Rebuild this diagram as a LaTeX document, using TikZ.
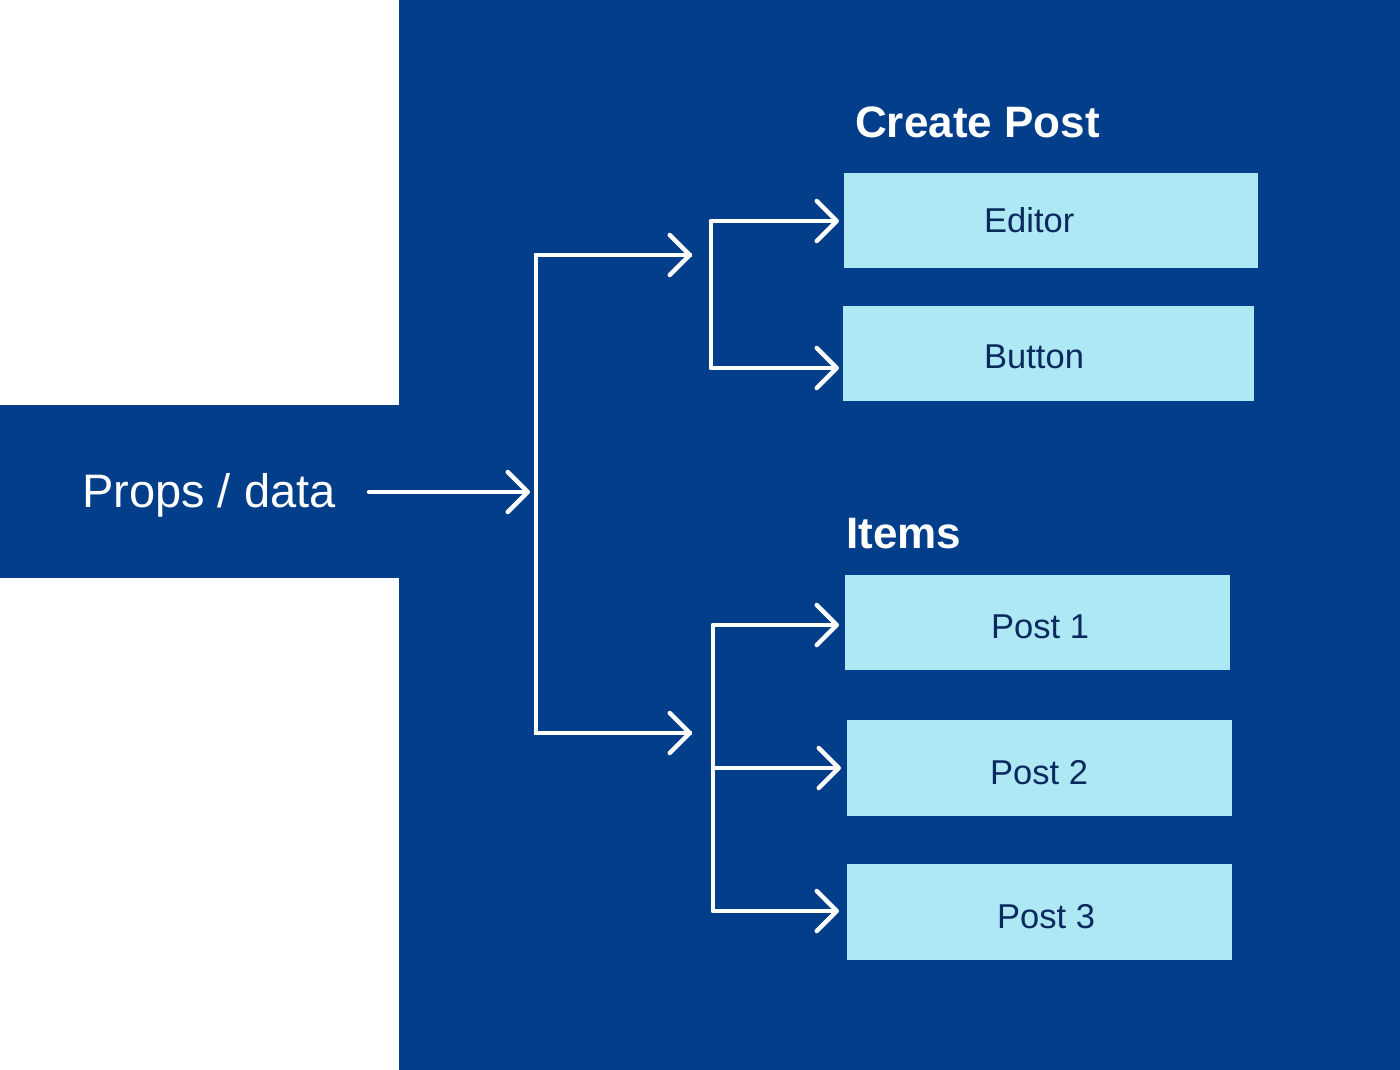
\documentclass[tikz,border=0pt]{standalone}
\usepackage{fontspec}
\setmainfont{Liberation Sans}
\usetikzlibrary{arrows.meta}
\definecolor{bgblue}{HTML}{023E8A}
\definecolor{boxcyan}{HTML}{ADE8F4}
\definecolor{boxtext}{HTML}{0A2A5E}
\begin{document}
\begin{tikzpicture}[x=1pt,y=-1pt,
  compbox/.style={fill=boxcyan,draw=none,inner sep=0pt,anchor=north west},
  boxlabel/.style={text=boxtext,font=\fontsize{34.5}{38}\selectfont,anchor=base west,inner sep=0pt},
  title/.style={text=white,font=\bfseries\fontsize{44}{50}\selectfont,anchor=base west,inner sep=0pt},
  flow/.style={draw=white,line width=4.5pt,line cap=round,line join=miter},
  tip/.style={-{Straight Barb[length=20pt,width=40pt,line cap=round,line join=round]}}
]
\useasboundingbox (0,0) rectangle (1400,1070);
\fill[white] (0,0) rectangle (1400,1070);
\fill[bgblue] (399,0) rectangle (1400,1070);
\fill[bgblue] (0,405) rectangle (400,578);

\node[text=white,font=\fontsize{47}{52}\selectfont,anchor=base west,inner sep=0pt] (props) at (82,507) {Props / data};
\node[title] (ctitle) at (855,138) {Create Post};
\node[title] (ititle) at (846,548) {Items};

\node[compbox,minimum width=414pt,minimum height=95pt] (editor) at (844,173) {};
\node[compbox,minimum width=411pt,minimum height=95pt] (button) at (843,306) {};
\node[compbox,minimum width=385pt,minimum height=95pt] (post1) at (845,575) {};
\node[compbox,minimum width=385pt,minimum height=96pt] (post2) at (847,720) {};
\node[compbox,minimum width=385pt,minimum height=96pt] (post3) at (847,864) {};

\node[boxlabel] (leditor) at (984,232) {Editor};
\node[boxlabel] (lbutton) at (984,368) {Button};
\node[boxlabel] (lpost1) at (991,638) {Post 1};
\node[boxlabel] (lpost2) at (990,784) {Post 2};
\node[boxlabel] (lpost3) at (997,928) {Post 3};

\coordinate (pstart) at (369,492);
\coordinate (mainbar) at (530,492);
\coordinate (mtop) at (536,255);
\coordinate (mbot) at (536,733);
\coordinate (mtopend) at (692,255);
\coordinate (mbotend) at (692,733);
\coordinate (ctop) at (711,221);
\coordinate (cbot) at (711,368);
\coordinate (itop) at (713,625);
\coordinate (imid) at (713,768);
\coordinate (ibot) at (713,911);

% main input
\draw[flow,tip] (pstart) -- (mainbar);
% main bracket
\draw[flow,line cap=butt] (mtopend) -- (mtop) -- (mbot) -- (mbotend);
\draw[flow,tip] (mtop) -- (mtopend);
\draw[flow,tip] (mbot) -- (mbotend);
% create post bracket
\draw[flow,line cap=butt] (ctop) -- (cbot);
\draw[flow,tip,shorten >=5pt] (ctop) -- (ctop -| editor.west);
\draw[flow,tip,shorten >=4pt] (cbot) -- (cbot -| button.west);
% items bracket
\draw[flow,line cap=butt] (itop) -- (ibot);
\draw[flow,tip,shorten >=6pt] (itop) -- (itop -| post1.west);
\draw[flow,tip,shorten >=6pt] (imid) -- (imid -| post2.west);
\draw[flow,tip,shorten >=8pt] (ibot) -- (ibot -| post3.west);
\end{tikzpicture}
\end{document}
